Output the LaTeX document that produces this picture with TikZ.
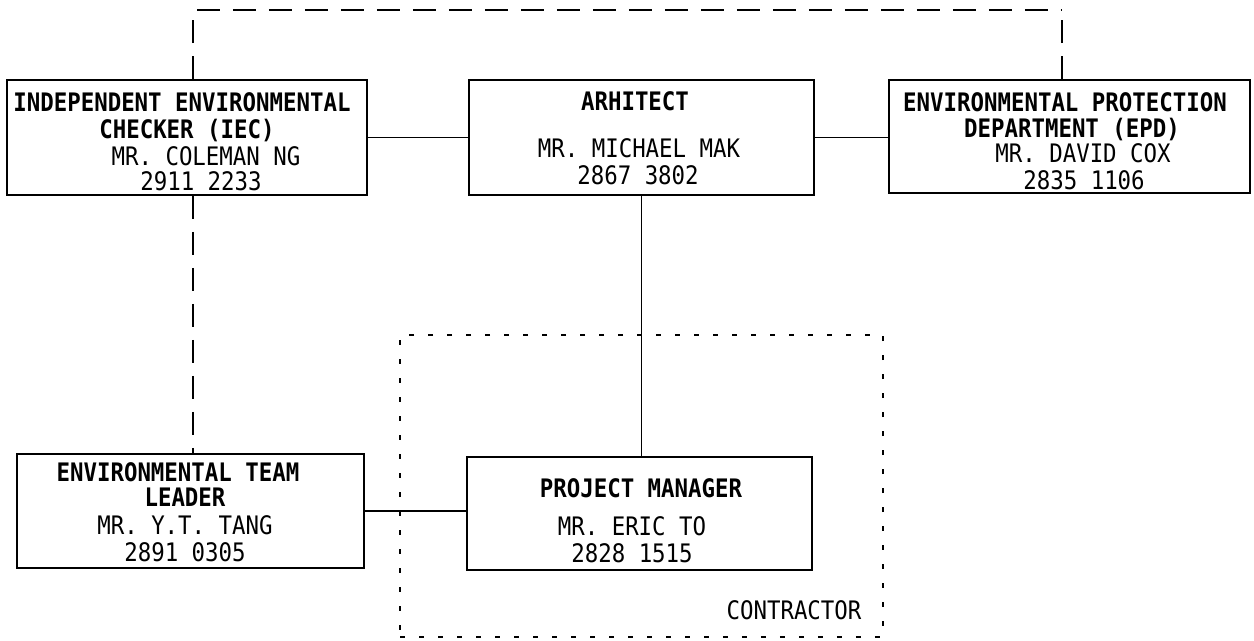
\documentclass[tikz,border=0pt]{standalone}
\usepackage{fontspec}
\setmainfont{DejaVu Sans Mono}[FakeStretch=0.88]
\begin{document}
\begin{tikzpicture}[x=0.02cm,y=-0.02cm,
  box/.style={draw,line width=1.1pt,inner sep=0pt,minimum width=#1},
  conn/.style={line width=0.85pt},
  dashconn/.style={line width=0.85pt,dash pattern=on 0.46cm off 0.26cm},
  dotframe/.style={draw,line width=1pt,dash pattern=on 0.1cm off 0.28cm,inner sep=0pt},
  txt/.style={font=\fontsize{14.5pt}{17pt}\selectfont,inner sep=0pt,anchor=base},
  ttl/.style={txt,font=\fontsize{14.5pt}{17pt}\selectfont\bfseries}]
\useasboundingbox (0,0) rectangle (1254,640);

% boxes
\node[box=7.2cm,minimum height=2.3cm] (iec) at (187,137.5) {};
\node[box=6.9cm,minimum height=2.3cm] (arch) at (641.5,137.5) {};
\node[box=7.22cm,minimum height=2.26cm] (epd) at (1069.5,136.5) {};
\node[box=6.94cm,minimum height=2.28cm] (etl) at (190.5,511) {};
\node[box=6.9cm,minimum height=2.26cm] (pm) at (639.5,513.5) {};
\node[dotframe,minimum width=9.66cm,minimum height=6.04cm] (cbox) at (641.5,486) {};

% texts
\node[ttl] (iec1) at (182,111) {INDEPENDENT ENVIRONMENTAL};
\node[ttl] (iec2) at (187,138) {CHECKER (IEC)};
\node[txt] (iec3) at (206,165) {MR. COLEMAN NG};
\node[txt] (iec4) at (201,190) {2911 2233};

\node[ttl] (arch1) at (635,110) {ARHITECT};
\node[txt] (arch2) at (639,157) {MR. MICHAEL MAK};
\node[txt] (arch3) at (638,184) {2867 3802};

\node[ttl] (epd1) at (1065,111) {ENVIRONMENTAL PROTECTION};
\node[ttl] (epd2) at (1072,137) {DEPARTMENT (EPD)};
\node[txt] (epd3) at (1083,162) {MR. DAVID COX};
\node[txt] (epd4) at (1084,189) {2835 1106};

\node[ttl] (etl1) at (178,481) {ENVIRONMENTAL TEAM};
\node[ttl] (etl2) at (185,506) {LEADER};
\node[txt] (etl3) at (185,534) {MR. Y.T. TANG};
\node[txt] (etl4) at (185,561) {2891 0305};

\node[ttl] (pm1) at (641,497) {PROJECT MANAGER};
\node[txt] (pm2) at (632,535) {MR. ERIC TO};
\node[txt] (pm3) at (632,562) {2828 1515};

\node[txt] (ctr) at (794,619) {CONTRACTOR};

% connectors
\draw[conn] (iec.east) -- (arch.west);
\draw[conn] (arch.east) -- (arch.east -| epd.west);
\draw[conn] (arch.south) -- (arch.south |- pm.north);
\draw[conn] (etl.east) -- (etl.east -| pm.west);

\coordinate (tl) at (193,10);
\coordinate (tr) at (1062,10);
\draw[dashconn] (iec.north -| tl) -- (tl);
\draw[dashconn] (epd.north -| tr) -- (tr);
\draw[dashconn] ([xshift=0.08cm]tl) -- (tr);
\draw[dashconn] (iec.south -| tl) -- (etl.north -| tl);
\end{tikzpicture}
\end{document}
